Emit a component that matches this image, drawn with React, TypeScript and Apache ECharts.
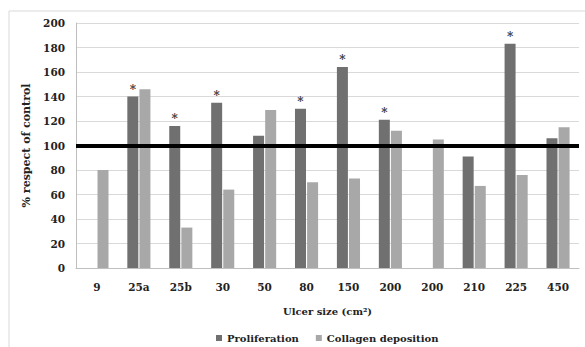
import React, { useEffect, useRef } from "react";
import * as echarts from "echarts";

const categories = ["9", "25a", "25b", "30", "50", "80", "150", "200", "200", "210", "225", "450"];
const proliferation: (number | null)[] = [null, 140, 116, 135, 108, 130, 164, 121, null, 91, 183, 106];
const collagen: number[] = [80, 146, 33, 64, 129, 70, 73, 112, 105, 67, 76, 115];
const significant: boolean[] = [false, true, true, true, false, true, true, true, false, false, true, false];
const yTicks = { min: 0, max: 200, interval: 20 };
const controlLevel = 100;

const FONT = "DejaVu Serif";

export default function App() {
  const ref = useRef<HTMLDivElement>(null);
  useEffect(() => {
    if (!ref.current) return;
    const chart = echarts.init(ref.current, undefined, { renderer: "svg" });
    chart.setOption({
      animation: false,
      backgroundColor: "#ffffff",
      textStyle: { fontFamily: FONT },
      graphic: [
        {
          type: "rect",
          shape: { x: 9, y: 11, width: 700, height: 500 },
          style: { fill: "none", stroke: "#d9d9d9", lineWidth: 1 },
          silent: true,
          z: -1,
        },
      ],
      grid: { left: 76, right: 6, top: 23, bottom: 79 },
      legend: {
        bottom: 4,
        left: 216,
        padding: 0,
        itemWidth: 6,
        itemHeight: 6,
        itemGap: 17,
        icon: "rect",
        textStyle: { fontFamily: FONT, fontWeight: "bold", fontSize: 10, color: "#222" },
        data: ["Proliferation", "Collagen deposition"],
      },
      xAxis: {
        type: "category",
        data: categories,
        name: "Ulcer size (cm²)",
        nameLocation: "middle",
        nameGap: 38,
        nameTextStyle: { fontFamily: FONT, fontWeight: "bold", fontSize: 10, color: "#222" },
        axisLine: { lineStyle: { color: "#bfbfbf" } },
        axisTick: { show: false },
        axisLabel: { fontFamily: FONT, fontWeight: "bold", fontSize: 10.5, color: "#222", margin: 13 },
      },
      yAxis: {
        type: "value",
        min: yTicks.min,
        max: yTicks.max,
        interval: yTicks.interval,
        name: "% respect of control",
        nameLocation: "middle",
        nameGap: 39,
        nameTextStyle: { fontFamily: FONT, fontWeight: "bold", fontSize: 11, color: "#222" },
        axisLine: { show: true, lineStyle: { color: "#bfbfbf" } },
        axisTick: { show: false },
        axisLabel: { fontFamily: FONT, fontWeight: "bold", fontSize: 10.5, color: "#222", margin: 11 },
        splitLine: { lineStyle: { color: "#d9d9d9" } },
      },
      series: [
        {
          name: "Proliferation",
          type: "bar",
          data: proliferation,
          barWidth: 11,
          barGap: "10%",
          itemStyle: { color: "#707070" },
          label: {
            show: true,
            position: "top",
            distance: 1,
            fontFamily: FONT,
            fontWeight: "bold",
            fontSize: 12,
            color: "#404040",
            formatter: (p: any) => (significant[p.dataIndex] ? "*" : ""),
          },
          markLine: {
            silent: true,
            symbol: "none",
            label: { show: false },
            lineStyle: { color: "#000", width: 4, type: "solid" },
            data: [{ yAxis: controlLevel }],
            z: 10,
          },
        },
        {
          name: "Collagen deposition",
          type: "bar",
          data: collagen,
          barWidth: 11,
          itemStyle: { color: "#a8a8a8" },
        },
      ],
    });
    return () => chart.dispose();
  }, []);
  return <div ref={ref} style={{ position: "fixed", left: 0, top: 0, width: 585, height: 347 }} />;
}
